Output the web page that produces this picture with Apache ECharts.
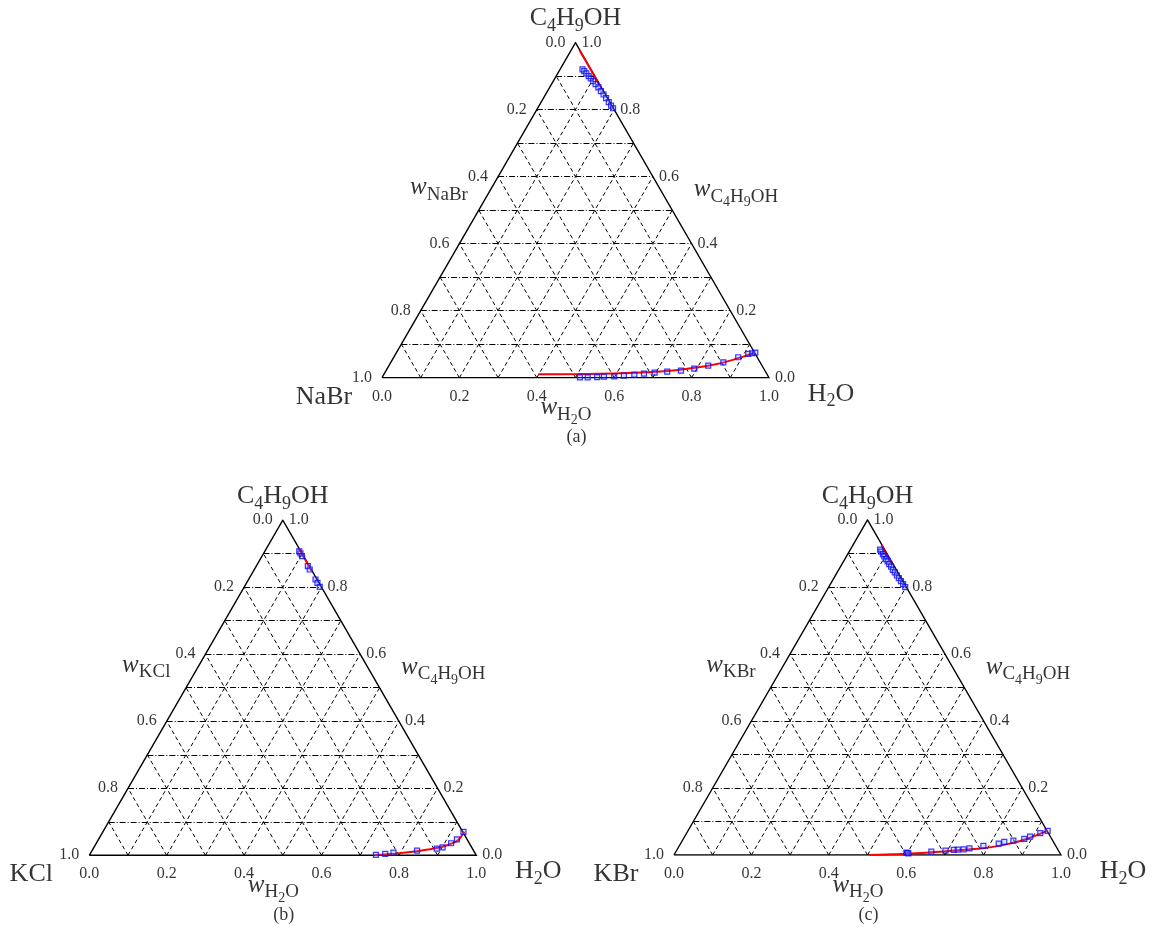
<!DOCTYPE html>
<html><head><meta charset="utf-8">
<script src="https://cdn.jsdelivr.net/npm/echarts@6/dist/echarts.min.js"></script>
<style>html,body{margin:0;padding:0;background:#fff}#c{width:1153px;height:932px}</style>
</head><body><div id="c"></div>
<script>
// ---- tick labels / grid fractions ----
const tickValues = [0, 0.2, 0.4, 0.6, 0.8, 1.0];
const tickLabels = ['0.0', '0.2', '0.4', '0.6', '0.8', '1.0'];
const gridFractions = [0.1, 0.2, 0.3, 0.4, 0.5, 0.6, 0.7, 0.8, 0.9];

// ---- data: pairs [w_H2O, w_C4H9OH]; w_salt = 1 - both ----
// (a) NaBr
const nabrOrgExp = [[0.058,0.920],[0.065,0.915],[0.074,0.908],[0.084,0.900],[0.093,0.893],[0.103,0.885],[0.114,0.876],[0.126,0.866],[0.138,0.855],[0.150,0.845],[0.162,0.834],[0.175,0.822],[0.186,0.812],[0.195,0.804]];
const nabrAqExp = [[0.511,0.001],[0.531,0.001],[0.555,0.002],[0.572,0.003],[0.598,0.004],[0.622,0.006],[0.6475,0.009],[0.671,0.012],[0.697,0.015],[0.728,0.018],[0.762,0.021],[0.7935,0.027],[0.825,0.036],[0.859,0.046],[0.890,0.061],[0.911,0.071],[0.920,0.073],[0.927,0.075]];
const nabrOrgCalc = [[0.021,0.978],[0.055,0.944],[0.090,0.909],[0.131,0.868]];
const nabrAqCalc = [[0.399,0.010],[0.500,0.011],[0.6085,0.013],[0.734,0.021],[0.822,0.035],[0.867,0.048],[0.902,0.063],[0.9265,0.0746]];
// (b) KCl
const kclOrgExp = [[0.089,0.907],[0.0955,0.9005],[0.1035,0.8925],[0.1334,0.8626],[0.1432,0.8528],[0.1731,0.8229],[0.1831,0.8129],[0.195,0.801]];
const kclAqExp = [[0.740,0.001],[0.7627,0.004],[0.782,0.008],[0.840,0.0137],[0.888,0.0197],[0.901,0.0239],[0.917,0.0359],[0.926,0.0478],[0.932,0.0697]];
const kclOrgCalc = [[0.082,0.917],[0.115,0.884],[0.149,0.850]];
const kclAqCalc = [[0.738,0.001],[0.790,0.005],[0.840,0.012],[0.880,0.020],[0.910,0.030],[0.930,0.044],[0.9337,0.0705]];
// (c) KBr
const kbrOrgExp = [[0.077,0.911],[0.083,0.905],[0.091,0.898],[0.098,0.891],[0.106,0.883],[0.114,0.876],[0.122,0.868],[0.131,0.860],[0.140,0.851],[0.149,0.843],[0.159,0.834],[0.168,0.826],[0.178,0.817],[0.188,0.808],[0.198,0.799]];
const kbrAqExp = [[0.597,0.007],[0.600,0.006],[0.603,0.005],[0.660,0.0099],[0.695,0.0129],[0.7155,0.015],[0.7253,0.016],[0.740,0.017],[0.7535,0.020],[0.786,0.027],[0.822,0.034],[0.834,0.039],[0.8555,0.043],[0.881,0.048],[0.8925,0.055],[0.914,0.065],[0.9295,0.072]];
const kbrOrgCalc = [[0.074,0.925],[0.100,0.898],[0.129,0.869]];
const kbrAqCalc = [[0.5055,0.000],[0.580,0.003],[0.648,0.007],[0.788,0.020],[0.840,0.031],[0.886,0.047],[0.929,0.0728]];

const saltNames = ['NaBr', 'KCl', 'KBr'];
const panelTags = ['(a)', '(b)', '(c)'];

// ---- layout (pixels) ----
const SQ = Math.sqrt(3) / 2;
const W = 387, H = W * SQ;
const layout = [
  {left: 382, bottom: 377.7},
  {left: 89.3, bottom: 855.3},
  {left: 674, bottom: 855}
];
const panelData = [
  [nabrOrgExp, nabrAqExp, nabrOrgCalc, nabrAqCalc],
  [kclOrgExp, kclAqExp, kclOrgCalc, kclAqCalc],
  [kbrOrgExp, kbrAqExp, kbrOrgCalc, kbrAqCalc]
];

function xy(p) { return [p[0] + p[1] / 2, p[1] * SQ]; }

const FONT = "'Liberation Serif','DejaVu Serif',serif";
const richVertex = {
  n: {fontSize: 26, fontFamily: FONT, color: '#000'},
  s: {fontSize: 18, padding: [16, 0, 0, 0], fontFamily: FONT, color: '#000'}
};
const richTitle = {
  w: {fontSize: 25, fontStyle: 'italic', fontFamily: FONT, color: '#000'},
  s: {fontSize: 19, padding: [14, 0, 0, 0], fontFamily: FONT, color: '#000'},
  ss: {fontSize: 14, padding: [26, 0, 0, 0], fontFamily: FONT, color: '#000'}
};

const grids = [], xAxes = [], yAxes = [], series = [];

function textSeries(i, items) {
  series.push({
    type: 'scatter', xAxisIndex: i, yAxisIndex: i, silent: true, clip: false,
    symbolSize: 0.01, itemStyle: {color: 'rgba(0,0,0,0)'}, z: 10,
    data: items.map(it => ({
      value: it.at, name: it.text,
      label: Object.assign({show: true, formatter: it.text, position: it.pos, align: it.align || 'center',
        verticalAlign: 'middle', fontFamily: FONT, fontSize: it.fs || 16, color: '#000'},
        it.rich ? {rich: it.rich} : {})
    }))
  });
}

layout.forEach((L, i) => {
  grids.push({left: L.left, top: L.bottom - H, width: W, height: H, containLabel: false});
  xAxes.push({type: 'value', gridIndex: i, min: 0, max: 1, show: false});
  yAxes.push({type: 'value', gridIndex: i, min: 0, max: SQ, show: false});

  // grid lines
  const hor = [], slant = [];
  gridFractions.forEach(f => {
    hor.push({coords: [xy([0, f]), xy([1 - f, f])]});
    slant.push({coords: [xy([1 - f, 0]), xy([0, 1 - f])]});
    slant.push({coords: [xy([f, 0]), xy([f, 1 - f])]});
  });
  series.push({type: 'lines', coordinateSystem: 'cartesian2d', xAxisIndex: i, yAxisIndex: i, silent: true,
    data: hor, lineStyle: {color: '#000', width: 1, opacity: 1, type: [6, 2, 1, 2]}, z: 1});
  series.push({type: 'lines', coordinateSystem: 'cartesian2d', xAxisIndex: i, yAxisIndex: i, silent: true,
    data: slant, lineStyle: {color: '#000', width: 1, opacity: 1, type: [4, 3]}, z: 1});
  // outline
  series.push({type: 'lines', coordinateSystem: 'cartesian2d', polyline: true, xAxisIndex: i, yAxisIndex: i, silent: true,
    data: [{coords: [xy([0, 0]), xy([1, 0]), xy([0, 1]), xy([0, 0])]}],
    lineStyle: {color: '#000', width: 1.4, opacity: 1, type: 'solid'}, z: 2});

  const [orgExp, aqExp, orgCalc, aqCalc] = panelData[i];
  [orgCalc, aqCalc].forEach(d => series.push({
    type: 'line', xAxisIndex: i, yAxisIndex: i, data: d.map(xy), smooth: 0.3, symbol: 'none',
    lineStyle: {color: '#ff0000', width: 2}, silent: true, z: 3
  }));
  [orgExp, aqExp].forEach(d => series.push({
    type: 'scatter', xAxisIndex: i, yAxisIndex: i, data: d.map(xy), symbol: 'rect', symbolSize: 5,
    itemStyle: {color: 'rgba(110,130,255,0.3)', borderColor: '#0a0aff', borderWidth: 1.2}, silent: true, z: 4
  }));

  // tick labels
  const items = [];
  tickValues.forEach((v, k) => {
    items.push({at: xy([v, 0]), text: tickLabels[k], pos: [0, 19]});
    items.push({at: xy([0, 1 - v]), text: tickLabels[k], pos: [-10, 0], align: 'right'});
    items.push({at: xy([1 - v, v]), text: tickLabels[k], pos: [6, 0], align: 'left'});
  });
  // vertex labels
  items.push({at: xy([0, 1]), text: '{n|C}{s|4}{n|H}{s|9}{n|OH}', pos: [0, -24], rich: richVertex});
  items.push({at: xy([1, 0]), text: '{n|H}{s|2}{n|O}', pos: [62, 16], rich: richVertex});
  items.push({at: xy([0, 0]), text: '{n|' + saltNames[i] + '}', pos: [-58, 19], rich: richVertex});
  // axis titles
  items.push({at: xy([0, 0]), text: '{w|w}{s|' + saltNames[i] + '}', pos: [57, -190], rich: richTitle});
  items.push({at: xy([1, 0]), text: '{w|w}{s|C}{ss|4}{s|H}{ss|9}{s|OH}', pos: [-33, -188], rich: richTitle});
  items.push({at: xy([0, 0]), text: '{w|w}{s|H}{ss|2}{s|O}', pos: [184, 30], rich: richTitle});
  items.push({at: xy([0, 0]), text: panelTags[i], pos: [W / 2 + 1, 60], fs: 18});
  textSeries(i, items);
});

const chart = echarts.init(document.getElementById('c'), null, {renderer: 'canvas'});
chart.setOption({animation: false, backgroundColor: '#fff', grid: grids, xAxis: xAxes, yAxis: yAxes, series: series});
</script></body></html>
